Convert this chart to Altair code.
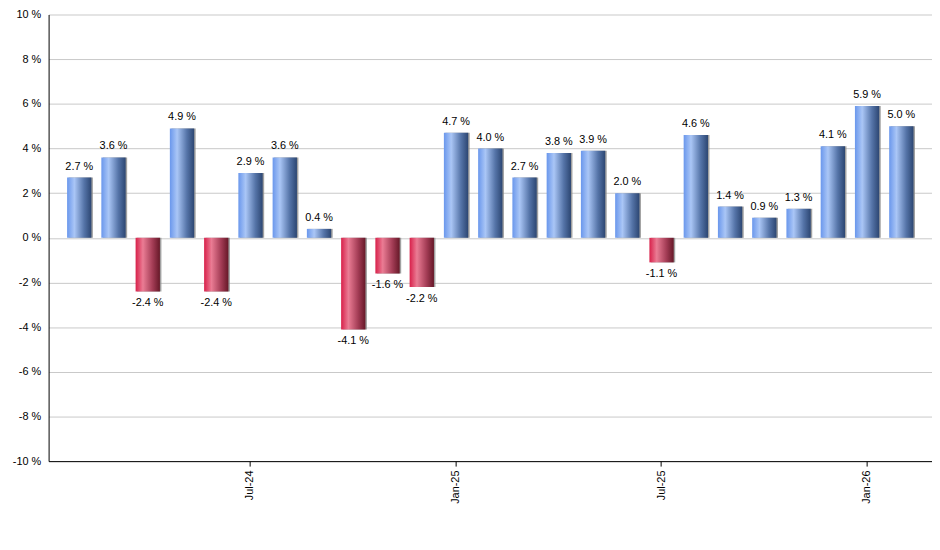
import pandas as pd
import altair as alt

months = ["Feb-24", "Mar-24", "Apr-24", "May-24", "Jun-24", "Jul-24", "Aug-24",
          "Sep-24", "Oct-24", "Nov-24", "Dec-24", "Jan-25", "Feb-25", "Mar-25",
          "Apr-25", "May-25", "Jun-25", "Jul-25", "Aug-25", "Sep-25", "Oct-25",
          "Nov-25", "Dec-25", "Jan-26", "Feb-26"]
values = [2.7, 3.6, -2.4, 4.9, -2.4, 2.9, 3.6, 0.4, -4.1, -1.6, -2.2, 4.7, 4.0,
          2.7, 3.8, 3.9, 2.0, -1.1, 4.6, 1.4, 0.9, 1.3, 4.1, 5.9, 5.0]
tick_months = ["Jul-24", "Jan-25", "Jul-25", "Jan-26"]
y_ticks = [-10, -8, -6, -4, -2, 0, 2, 4, 6, 8, 10]

df = pd.DataFrame({"month": months, "value": values})
df["label"] = [f"{v:.1f} %" for v in values]

FONT = "Liberation Sans"

blue = alt.Gradient(
    gradient="linear", x1=0, x2=1, y1=0, y2=0,
    stops=[alt.GradientStop(color="#6a97ec", offset=0),
           alt.GradientStop(color="#aac6f6", offset=0.3),
           alt.GradientStop(color="#5574a8", offset=0.7),
           alt.GradientStop(color="#2c4672", offset=1)])
red = alt.Gradient(
    gradient="linear", x1=0, x2=1, y1=0, y2=0,
    stops=[alt.GradientStop(color="#d8204a", offset=0),
           alt.GradientStop(color="#ea7c94", offset=0.3),
           alt.GradientStop(color="#a33c55", offset=0.7),
           alt.GradientStop(color="#661828", offset=1)])

x = alt.X("month:O", sort=months, title=None,
          scale=alt.Scale(paddingInner=0.29, paddingOuter=0.54),
          axis=alt.Axis(values=tick_months, labelAngle=270, labelAlign="right",
                        labelBaseline="middle", labelFont=FONT, labelFontSize=11,
                        labelColor="black", tickColor="black", tickSize=5,
                        domainColor="black", labelPadding=4, grid=False))
y = alt.Y("value:Q", title=None,
          scale=alt.Scale(domain=[-10, 10], nice=False),
          axis=alt.Axis(values=y_ticks, labelExpr="datum.value + ' %'",
                        labelFont=FONT, labelFontSize=11, labelColor="black",
                        ticks=False, labelPadding=8, domainColor="black",
                        gridColor="#c8c8c8"))

base = alt.Chart(df).encode(x=x, y=y)

shadow = base.mark_bar(color="#8a8a8a", xOffset=1.5, opacity=0.8)
pos = base.transform_filter("datum.value >= 0").mark_bar(color=blue)
neg = base.transform_filter("datum.value < 0").mark_bar(color=red)

pos_text = base.transform_filter("datum.value >= 0").mark_text(
    baseline="bottom", dy=-6, font=FONT, fontSize=11, color="black"
).encode(text="label:N")
neg_text = base.transform_filter("datum.value < 0").mark_text(
    baseline="top", dy=6, font=FONT, fontSize=11, color="black"
).encode(text="label:N")

chart = (shadow + pos + neg + pos_text + neg_text).properties(
    width=892, height=451,
    autosize=alt.AutoSizeParams(type="none"),
    padding={"left": 41, "top": 4, "right": 0, "bottom": 70},
).configure_view(strokeWidth=0)

chart.save("out.html", embed_options={"renderer": "svg", "actions": False})
